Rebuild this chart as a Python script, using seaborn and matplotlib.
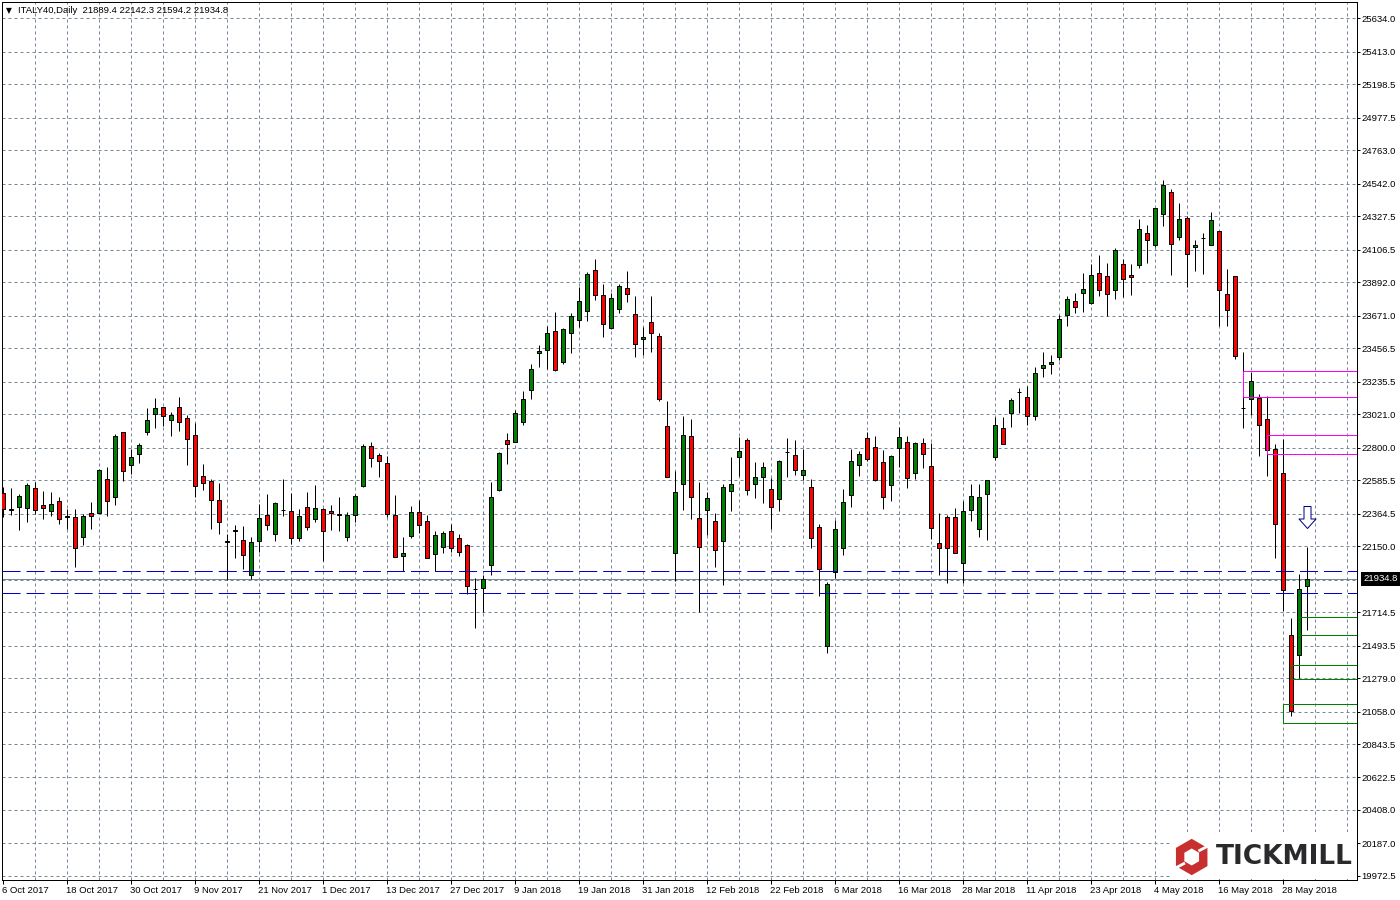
import numpy as np
import pandas as pd
import matplotlib
matplotlib.use("Agg")
import matplotlib.pyplot as plt
from matplotlib.path import Path
from matplotlib.patches import Polygon
import seaborn as sns

opens = [22498,22392,22406,22399,22531,22419,22379,22445,22346,22340,22208,22366,22366,22590,22472,22901,22683,22755,22901,23019,
         23066,22980,23066,22993,22881,22610,22577,22452,22185,22258,22188,21957,22181,22353,22227,22390,22379,22201,22406,22326,
         22392,22379,22359,22208,22353,22546,22808,22749,22696,22353,22082,22219,22373,22313,22095,22142,22247,22201,22155,21869,
         21871,22023,22522,22848,22835,22967,23178,23422,23442,23567,23363,23554,23640,23699,23970,23805,23591,23712,23851,23679,
         23514,23627,23534,22940,22102,22557,22874,22333,22386,22313,22181,22511,22736,22848,22557,22604,22524,22458,22770,22749,
         22617,22538,22274,21488,21977,22135,22485,22683,22861,22802,22703,22551,22795,22835,22630,22828,22676,22168,22340,22340,
         22036,22386,22260,22491,22736,22927,23026,23168,23132,23011,23323,23349,23396,23673,23765,23818,23752,23950,23930,23838,
         24009,23937,24003,24214,24135,24339,24485,24188,24313,24122,24182,24135,24227,23811,23930,23060,23118,23129,22986,22788,
         22630,21561,21429,21889.4]
closes = [22392,22390,22478,22551,22386,22399,22425,22326,22344,22135,22346,22346,22650,22445,22874,22643,22736,22815,22980,23059,
          23006,23013,22967,22854,22544,22564,22452,22307,22179,22252,22089,22175,22333,22287,22432,22385,22201,22346,22274,22399,
          22247,22366,22357,22353,22478,22808,22729,22709,22359,22076,22102,22373,22287,22069,22221,22234,22135,22109,21884,21864,
          21930,22472,22762,22821,23026,23118,23316,23435,23554,23312,23580,23666,23765,23943,23805,23613,23785,23864,23811,23481,
          23528,23554,23118,22608,22505,22881,22472,22142,22465,22122,22538,22557,22775,22518,22604,22670,22406,22709,22768,22650,
          22650,22201,21996,21897,22260,22439,22709,22755,22722,22584,22472,22742,22868,22597,22828,22755,22267,22135,22135,22102,
          22379,22478,22472,22584,22947,22821,23112,23165,23006,23290,23343,23363,23646,23778,23726,23844,23937,23838,23811,24102,
          23910,23924,24240,24168,24379,24531,24141,24306,24075,24135,24180,24300,23838,23706,23402,23058,23237,22947,22782,22293,
          21858,21059,21864,21934.8]
highs = [22538,22533,22491,22564,22573,22513,22507,22474,22392,22392,22359,22441,22656,22670,22887,22901,22791,22828,23059,23125,
         23066,23033,23132,23013,22964,22689,22590,22564,22230,22287,22282,22208,22425,22494,22439,22590,22498,22392,22507,22551,
         22399,22419,22472,22373,22491,22821,22837,22762,22742,22487,22208,22412,22452,22355,22249,22247,22293,22227,22164,21937,
         21957,22573,22769,22896,23046,23171,23349,23475,23600,23693,23587,23686,23860,23957,24042,23877,23822,23877,23963,23798,
         23596,23798,23554,23105,22645,23008,22989,22571,22505,22366,22557,22738,22868,22861,22703,22703,22597,22716,22861,22848,
         22788,22590,22293,21911,22320,22524,22788,22775,22901,22874,22782,22749,22934,22874,22835,22861,22828,22366,22353,22399,
         22450,22557,22557,22584,23000,23000,23125,23193,23204,23330,23431,23409,23675,23798,23818,23950,24009,24069,24016,24115,
         24042,24009,24306,24267,24379,24564,24504,24412,24326,24168,24214,24353,24227,23976,23930,23429,23301,23151,23138,22821,
         22854,21673,21963,22142.3]
lows = [22340,22357,22256,22309,22362,22331,22351,22296,22263,22014,22157,22265,22366,22351,22421,22582,22623,22698,22885,22929,
        22942,22876,22909,22687,22474,22520,22263,22230,21926,22071,21999,21930,22111,22256,22183,22348,22164,22183,22256,22309,
        22051,22256,22250,22183,22309,22540,22672,22606,22342,22076,21983,22205,22236,22069,21983,22104,22111,22084,21831,21609,
        21713,21957,22513,22692,22835,22951,23123,23334,23316,23308,23354,23426,23594,23638,23774,23532,23585,23690,23763,23400,
        23413,23433,23107,22604,21919,22390,22331,21717,22223,22012,21893,22381,22610,22489,22469,22436,22265,22384,22608,22621,
        22584,22139,21823,21446,21939,22091,22410,22615,22709,22577,22395,22450,22674,22535,22595,22667,22199,21961,21908,22102,
        21908,22318,22212,22192,22716,22821,22936,23028,22949,22982,23266,23286,23380,23602,23688,23695,23745,23800,23668,23781,
        23792,23807,23985,24018,24124,24262,23939,24170,23860,23965,23946,24135,23600,23600,23385,22929,23015,22744,22612,22073,
        21724,21031,21277,21594.2]

date_labels = ["6 Oct 2017","18 Oct 2017","30 Oct 2017","9 Nov 2017","21 Nov 2017","1 Dec 2017","13 Dec 2017",
               "27 Dec 2017","9 Jan 2018","19 Jan 2018","31 Jan 2018","12 Feb 2018","22 Feb 2018","6 Mar 2018",
               "16 Mar 2018","28 Mar 2018","11 Apr 2018","23 Apr 2018","4 May 2018","16 May 2018","28 May 2018"]
price_ticks = [25634.0,25413.0,25198.5,24977.5,24763.0,24542.0,24327.5,24106.5,23892.0,23671.0,23456.5,23235.5,
               23021.0,22800.0,22585.5,22364.5,22150.0,21714.5,21493.5,21279.0,21058.0,20843.5,20622.5,20408.0,
               20187.0,19972.5]
grid_extra = [21929.0]
dashed_levels = [21983, 21838]
last_price = 21934.8
header = "ITALY40,Daily  21889.4 22142.3 21594.2 21934.8"
# zones: (first bar, upper price, lower price)
magenta_zones = [(155, 23303, 23132), (158, 22881, 22755)]
green_zones = [(162, 21680, 21561), (161, 21363, 21270), (160, 21105, 20980)]
arrow_bar, arrow_price = 163, 22344

sns.set_theme(style="white")
plt.rcParams["font.family"] = ["Liberation Sans", "DejaVu Sans"]
plt.rcParams["lines.scale_dashes"] = False
PX = 0.72
FS = 6.8

df = pd.DataFrame({"bar": np.arange(len(opens)), "open": opens, "close": closes, "high": highs, "low": lows})
df["top"] = df[["open", "close"]].max(axis=1)
df["bottom"] = df[["open", "close"]].min(axis=1)
df["body"] = df["top"] - df["bottom"]
up = df[df["close"] > df["open"]]
down = df[df["close"] <= df["open"]]

fig = plt.figure(figsize=(14, 9), dpi=100, facecolor="white")
ax = fig.add_axes([1.5 / 1400, 20 / 900, 1355 / 1400, 878 / 900])

ax.vlines(df["bar"], df["low"], df["high"], color="black", lw=PX, zorder=3, snap=True)
for part, col in ((up, "#008000"), (down, "#ff0000")):
    sns.barplot(data=part, x="bar", y="body", bottom=part["bottom"], native_scale=True, width=0.5,
                color=col, saturation=1, errorbar=None, edgecolor="black", linewidth=PX,
                zorder=4, ax=ax)

xlim = (-0.125, 169.25)
ylim = (19945.9, 25740.7)
ax.set_xlim(xlim)
ax.set_ylim(ylim)

grid_c = "#778899"
grid_dash = (0, (2.16, 2.16))
ax.hlines(price_ticks + grid_extra, *xlim, color=grid_c, lw=PX, linestyles=[grid_dash], zorder=1)
ax.vlines(np.arange(4, 170, 4), *ylim, color=grid_c, lw=PX, linestyles=[grid_dash], zorder=1)
ax.axhline(last_price, color=grid_c, lw=PX, zorder=2)

ax.hlines(dashed_levels, *xlim, color="#0000cd", lw=PX, linestyles=[(0, (13, 4.3))], zorder=5)

for zones, col in ((magenta_zones, "#ff00ff"), (green_zones, "#008000")):
    for first, hi, lo in zones:
        ax.hlines([hi, lo], first, xlim[1], color=col, lw=PX, zorder=6)
        ax.vlines(first, lo, hi, color=col, lw=PX, zorder=6)

shaft, head = 3.5, 8.5
arrow = Path([(-shaft, 11), (shaft, 11), (shaft, -1.5), (head, -1.5), (0, -11), (-head, -1.5), (-shaft, -1.5), (-shaft, 11)], closed=True)
ax.plot([arrow_bar], [arrow_price], marker=arrow, ms=15.84, mfc="white", mec="#000080", mew=PX, ls="none", zorder=7)

ax.yaxis.tick_right()
ax.set_yticks(price_ticks)
ax.set_yticklabels([f"{p:.1f}" for p in price_ticks], fontsize=FS, color="black")
ax.set_xticks(np.arange(0, 8 * len(date_labels), 8))
ax.set_xticklabels(date_labels, fontsize=FS, ha="left", color="black")
ax.tick_params(axis="y", length=2.5, width=PX, pad=1.2, color="black", right=True, labelright=True, left=False)
ax.tick_params(axis="x", length=3, width=PX, pad=1.0, color="black", bottom=True)
ax.set_xlabel("")
ax.set_ylabel("")
for s in ax.spines.values():
    s.set_color("black")
    s.set_linewidth(PX)

ax.annotate(f"{last_price:.1f}", xy=(1, last_price), xycoords=("axes fraction", "data"),
            xytext=(5, 0), textcoords="offset points", fontsize=FS, color="white", va="center", ha="left",
            annotation_clip=False, zorder=10,
            bbox=dict(boxstyle="square,pad=0.25", fc="black", ec="black", lw=0))

fig.text(6 / 1400, 1 - 10.5 / 900, "\u25bc", fontsize=5.5, color="black", va="center", family="DejaVu Sans")
fig.text(18 / 1400, 1 - 10.5 / 900, header, fontsize=FS, color="black", va="center")

# logo panel
logo = fig.add_axes([1170 / 1400, 1 - 879 / 900, 186 / 1400, 47 / 900], facecolor="white", zorder=8)
logo.set_xlim(1170, 1356)
logo.set_ylim(879, 832)
logo.axis("off")
logo.add_patch(plt.Rectangle((1170, 832), 186, 47, fc="white", ec="none"))
def hexagon(r):
    cx, cy = 1191.7, 857
    return [(cx + r * np.sin(a), cy - r * np.cos(a)) for a in np.arange(6) * np.pi / 3]
logo.add_patch(Polygon(hexagon(18.2), closed=True, fc="#c8302f", ec="none"))
logo.add_patch(Polygon(hexagon(8.5), closed=True, fc="white", ec="none"))
logo.plot([1198.5, 1209], [851, 845.5], color="white", lw=2.0, solid_capstyle="butt")
logo.plot([1185, 1174.5], [863, 868.5], color="white", lw=2.0, solid_capstyle="butt")
logo.text(1215.7, 857.4, "TICKMILL", fontsize=19.0, fontweight="bold", color="#2a2a2c", family="DejaVu Sans", va="center", ha="left")

fig.savefig("out.png", dpi=100, facecolor="white")
